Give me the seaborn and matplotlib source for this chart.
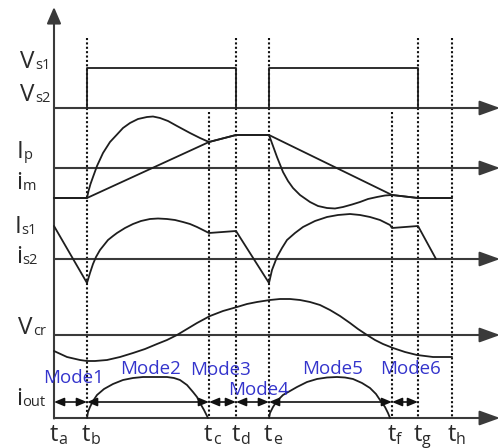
import matplotlib
matplotlib.use("Agg")
import matplotlib.pyplot as plt
import seaborn as sns
import pandas as pd

# ---------------- data (diagram units: x = time axis, y = level, downwards) ----------------
time_labels = ["a", "b", "c", "d", "e", "f", "g", "h"]
time_pos = [54, 87, 209, 236, 269, 392, 418, 452]
tall_marks = ["b", "d", "e", "g", "h"]
short_marks = ["c", "f"]

axis_levels = [108, 168, 259, 335, 418]

# gate voltage pulses
vs1_x = [87, 87, 236, 236]
vs1_y = [108, 68, 68, 108]
vs2_x = [269, 269, 418, 418]
vs2_y = [108, 68, 68, 108]

# primary current
ip_x = [54, 87, 88.5, 90.5, 93, 97, 103, 110, 117, 123, 130, 138, 147, 153, 160, 168, 177, 190,
        200, 209, 236, 269, 273, 277, 283, 288, 293, 300, 310, 318, 327, 335, 343, 352, 360,
        368, 377, 385, 392, 418, 452]
ip_y = [198, 198, 191, 184, 177, 166, 153, 142, 134.5, 128, 123, 119, 117, 116.5, 118, 121, 126,
        133, 138, 142, 135, 135, 146, 157, 172, 181, 188, 195, 202, 206, 208, 208.5, 207, 204.5,
        202, 199, 197, 195.5, 195, 198, 198]

# magnetizing current
im_x = [54, 87, 209, 236, 269, 392, 418, 452]
im_y = [198, 198, 142, 135, 135, 195, 198, 198]

# secondary currents
is_x = [54, 87, 90, 93, 96, 100, 104, 108, 113, 117, 125, 133, 141, 150, 158, 167, 175, 183,
        190, 197, 203, 209, 236, 269, 272, 277, 282, 287, 295, 303, 315, 327, 338, 350, 360,
        370, 380, 390, 392, 418, 436]
is_y = [226, 283, 273, 264, 257, 250, 245, 240, 236, 233, 228, 224, 221, 219, 218.5, 219, 220, 222,
        224, 227, 230, 233, 231, 283, 270, 257, 248, 240, 233, 227, 221, 217, 215, 214, 215,
        217, 220, 225, 228, 226, 259]

# resonant capacitor voltage
vcr_x = [54, 67, 80, 87, 95, 107, 120, 133, 145, 157, 167, 177, 187, 197, 210, 223, 237, 247,
         257, 270, 280, 290, 300, 310, 320, 330, 340, 350, 358, 367, 375, 383, 393, 405, 417,
         425, 433, 442, 452]
vcr_y = [351, 357, 360, 361, 361, 360, 357, 353, 349, 344, 340, 335, 329, 323, 316, 311, 307, 304,
         302, 300, 299, 299, 300, 302, 305, 310, 316, 323, 329, 335, 340, 344, 348, 352, 355,
         356, 357, 357, 357]

# output current arcs
io1_x = [87, 88, 90, 93, 97, 104, 113, 123, 133, 143, 153, 160, 167, 174, 180, 187, 193, 197,
         200, 204, 208]
io1_y = [418, 412, 407, 401, 395, 389, 384, 380, 378, 377, 377, 377, 377, 378, 380, 385, 392, 397,
         403, 410, 418]
io2_x = [269, 270, 273, 277, 283, 290, 297, 307, 317, 327, 337, 345, 353, 362, 370, 376, 380,
         385, 388, 390]
io2_y = [418, 413, 407, 401, 395, 391, 387, 382, 379, 377.5, 377, 377.5, 379, 383, 388, 394, 400,
         407, 413, 418]

signal_main = ["V", "V", "I", "i", "I", "i", "V", "i"]
signal_sub = ["s1", "s2", "p", "m", "s1", "s2", "cr", "out"]

mode_names = ["Mode1", "Mode2", "Mode3", "Mode4", "Mode5", "Mode6"]
mode_start = ["a", "b", "c", "d", "e", "f"]
mode_end = ["b", "c", "d", "e", "f", "g"]

# ---------------- layout (positions of text) ----------------
sig_split = [35, 35, 23, 22, 21, 22, 33, 22]
sig_base = [68, 101, 158, 189, 233, 263, 334, 405]
mode_cx = [74, 151, 221, 259, 333, 410]
mode_base = [383, 374, 375, 395, 374, 374]

# ---------------- drawing ----------------
sns.set_theme(style="white")
plt.rcParams["font.family"] = ["Open Sans", "DejaVu Sans"]

fig = plt.figure(figsize=(5.0, 4.48), dpi=100)
ax = fig.add_axes([0, 0, 1, 1])

tp = dict(zip(time_labels, time_pos))

# dotted time markers
for name in tall_marks:
    ax.vlines(tp[name], 38, 418, colors="#111111", linestyles=(0, (1, 1.1)), lw=1.5, zorder=1)
for name in short_marks:
    ax.vlines(tp[name], 112, 418, colors="#111111", linestyles=(0, (1, 1.1)), lw=1.5, zorder=1)

# coordinate axes with arrow heads
AX_COL = "#3a3a3a"
x0 = time_pos[0]
for yl in axis_levels:
    ax.annotate("", xy=(500, yl), xytext=(x0, yl),
                arrowprops=dict(arrowstyle="-|>,head_length=1.25,head_width=0.45",
                                mutation_scale=10, color=AX_COL, lw=1.5,
                                shrinkA=0, shrinkB=0), zorder=2)
ax.annotate("", xy=(x0, 7), xytext=(x0, axis_levels[-1] + 0.5),
            arrowprops=dict(arrowstyle="-|>,head_length=1.0,head_width=0.43",
                            mutation_scale=10, color=AX_COL, lw=1.5,
                            shrinkA=0, shrinkB=0), zorder=2)

# waveforms
traces = [("vs1", vs1_x, vs1_y), ("vs2", vs2_x, vs2_y), ("ip", ip_x, ip_y),
          ("im", im_x, im_y), ("is", is_x, is_y), ("vcr", vcr_x, vcr_y),
          ("io1", io1_x, io1_y), ("io2", io2_x, io2_y)]
rows = []
for name, xs, ys in traces:
    for k, (xv, yv) in enumerate(zip(xs, ys)):
        rows.append({"trace": name, "order": k, "x": xv, "y": yv})
df = pd.DataFrame(rows)
sns.lineplot(data=df, x="x", y="y", units="trace", estimator=None, sort=False,
             color="#1e1e1e", lw=1.3, ax=ax, legend=False, zorder=3)
ax.set_xlim(0, 500)
ax.set_ylim(448, 0)
ax.axis("off")

# mode interval double arrows
for s, e in zip(mode_start, mode_end):
    ax.annotate("", xy=(tp[e], 402), xytext=(tp[s], 402),
                arrowprops=dict(arrowstyle="<|-|>,head_length=0.6,head_width=0.25",
                                mutation_scale=10, color="#111111", lw=1.2,
                                shrinkA=0, shrinkB=0), zorder=4)

# signal labels
TXT = "#2a2a2a"
for m, sb, sx, by in zip(signal_main, signal_sub, sig_split, sig_base):
    ax.text(sx, by, m, ha="right", va="baseline", fontsize=17.5, color=TXT)
    ax.text(sx + 0.5, by + 1, sb, ha="left", va="baseline", fontsize=10.5, color=TXT)

# time labels
for name, x in zip(time_labels, time_pos):
    ax.text(x + 3.5, 441, "t", ha="right", va="baseline", fontsize=17, color=TXT)
    ax.text(x + 4, 444, name, ha="left", va="baseline", fontsize=11.5, color=TXT)

# mode labels
for nm, cx, by in zip(mode_names, mode_cx, mode_base):
    ax.text(cx, by, nm, ha="center", va="baseline", fontsize=13.5, color="#3434cc", zorder=5)

fig.savefig("out.png", dpi=100)
